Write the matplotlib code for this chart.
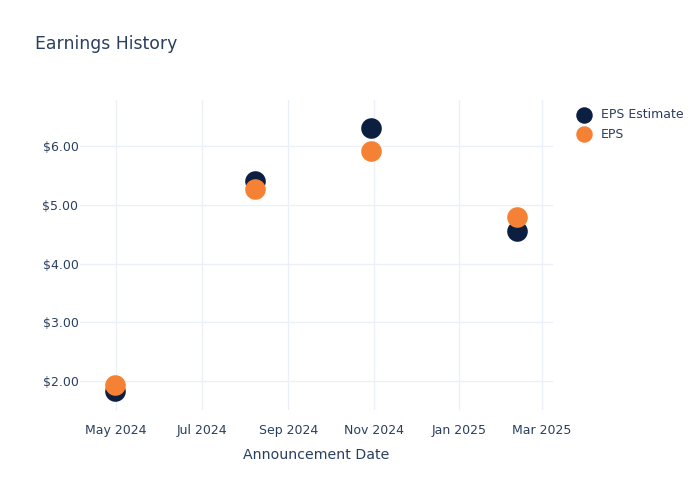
import matplotlib.pyplot as plt
import matplotlib.dates as mdates
from matplotlib.ticker import FuncFormatter
import datetime as dt

dates = ['2024-04-30', '2024-08-08', '2024-10-30', '2025-02-11']
eps_estimate = [1.83, 5.40, 6.31, 4.56]
eps_actual = [1.93, 5.26, 5.91, 4.79]

navy = '#0c1f40'
orange = '#f58134'
text_col = '#2a3f5f'
grid_col = '#ebf0f8'

x = [dt.datetime.strptime(d, '%Y-%m-%d') for d in dates]

fig = plt.figure(figsize=(7, 5), dpi=100)
ax = fig.add_axes([0.114, 0.18, 0.676, 0.62])

ax.scatter(x, eps_estimate, s=220, color=navy, label='EPS Estimate', zorder=3, linewidths=0)
ax.scatter(x, eps_actual, s=220, color=orange, label='EPS', zorder=4, linewidths=0)

ax.set_xlim(dt.datetime(2024, 4, 5), dt.datetime(2025, 3, 9))
ax.set_ylim(1.51, 6.78)
ax.set_yticks([2, 3, 4, 5, 6])
ax.yaxis.set_major_formatter(FuncFormatter(lambda v, p: f'${v:.2f}'))
ax.xaxis.set_major_locator(mdates.MonthLocator(bymonth=[1, 3, 5, 7, 9, 11]))
ax.xaxis.set_major_formatter(mdates.DateFormatter('%b %Y'))

ax.grid(True, color=grid_col, linewidth=1)
ax.set_axisbelow(True)
for s in ax.spines.values():
    s.set_visible(False)
ax.tick_params(length=0, colors=text_col, labelsize=9)
ax.tick_params(axis='y', pad=1)
ax.tick_params(axis='x', pad=10)

ax.set_xlabel('Announcement Date', color=text_col, fontsize=10.2, labelpad=8)
fig.text(0.05, 0.912, 'Earnings History', color=text_col, fontsize=12.4, va='center')

leg = fig.legend(loc='upper left', bbox_to_anchor=(0.8, 0.806), frameon=False,
                 fontsize=9, labelcolor=text_col, handletextpad=0.4,
                 labelspacing=0.5, markerscale=0.8)

plt.savefig('out.png', dpi=100)
